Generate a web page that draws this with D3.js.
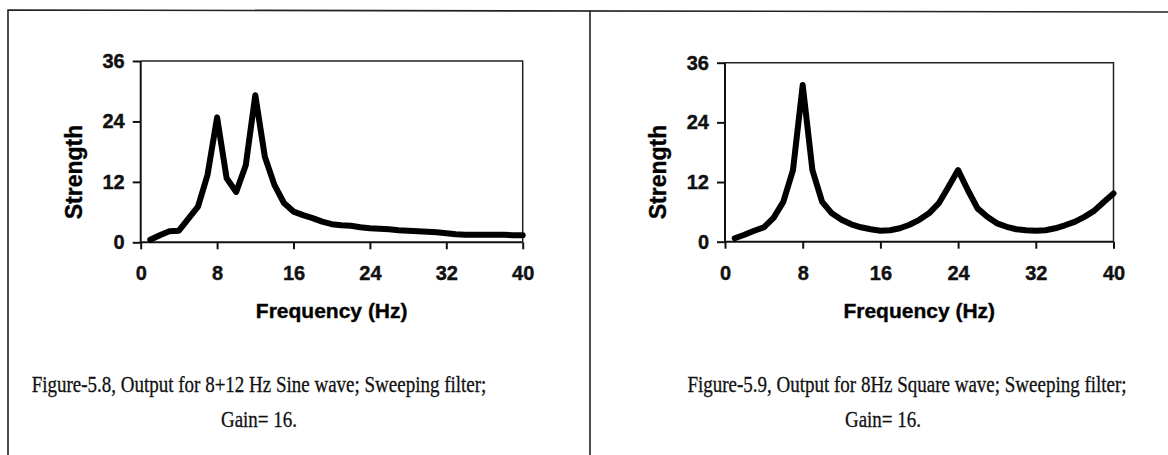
<!DOCTYPE html>
<html>
<head>
<meta charset="utf-8">
<script src="https://cdn.jsdelivr.net/npm/d3@7"></script>
<style>
  body { margin: 0; background: #fff; }
  svg { display: block; }
  .tick text { font-family: "Liberation Sans", Arial, sans-serif; font-weight: bold; font-size: 20px; fill: #111; stroke: #111; stroke-width: 0.4px; }
  .tick line, .domain { stroke: #111; }
</style>
</head>
<body>
<svg id="svg_layer" width="1168" height="455"></svg>
<script>
// data
var freqs = d3.range(1, 41);
var sineStrength = [0.5, 1.4, 2.2, 2.3, 4.7, 7.1, 13.4, 24.8, 12.7, 10.0,
  15.3, 29.2, 17.0, 11.4, 7.8, 6.1, 5.4, 4.8, 4.1, 3.6,
  3.4, 3.3, 3.0, 2.8, 2.7, 2.6, 2.4, 2.3, 2.2, 2.1,
  2.0, 1.8, 1.6, 1.5, 1.5, 1.5, 1.5, 1.5, 1.4, 1.4];
var squareStrength = [0.7, 1.4, 2.2, 2.9, 4.8, 8.0, 14.4, 31.5, 14.4, 8.0,
  5.7, 4.4, 3.5, 2.9, 2.5, 2.2, 2.3, 2.7, 3.4, 4.4,
  5.7, 7.7, 11.0, 14.4, 10.4, 6.7, 5.0, 3.7, 3.0, 2.5,
  2.3, 2.2, 2.3, 2.7, 3.3, 4.0, 5.0, 6.2, 8.0, 9.7];
var xTicks = [0, 8, 16, 24, 32, 40];
var yTicks = [0, 12, 24, 36];
var captions1 = ["Figure-5.8, Output for 8+12 Hz Sine wave; Sweeping filter;", "Gain= 16."];
var captions2 = ["Figure-5.9, Output for 8Hz Square wave; Sweeping filter;", "Gain= 16."];

var svg = d3.select("#svg_layer");

// outer frame (scanned page table)
svg.append("path")
  .attr("d", "M8,455 L8,10 L1168,12")
  .attr("fill", "none").attr("stroke", "#222").attr("stroke-width", 1.6);
svg.append("line")
  .attr("x1", 590).attr("y1", 10.5).attr("x2", 590).attr("y2", 455)
  .attr("stroke", "#222").attr("stroke-width", 1.6);

function drawChart(box, values, caps) {
  var x = d3.scaleLinear().domain([0, 40]).range([box.left, box.right]);
  var y = d3.scaleLinear().domain([0, 36]).range([box.bottom, box.top]);
  var g = svg.append("g");

  // top and right border of plot area
  g.append("path")
    .attr("d", "M" + x(0) + "," + y(36) + " L" + x(40) + "," + y(36) + " L" + x(40) + "," + y(0))
    .attr("fill", "none").attr("stroke", "#222").attr("stroke-width", 1.5);

  var ya = g.append("g")
    .attr("transform", "translate(" + x(0) + ",0)")
    .call(d3.axisLeft(y).tickValues(yTicks).tickSize(8).tickPadding(8));
  var xa = g.append("g")
    .attr("transform", "translate(0," + y(0) + ")")
    .call(d3.axisBottom(x).tickValues(xTicks).tickSize(7).tickPadding(17));
  ya.selectAll(".domain, .tick line").attr("stroke-width", 2);
  xa.selectAll(".domain, .tick line").attr("stroke-width", 2);
  ya.select(".domain").attr("d", "M0," + y(0) + "V" + y(36));
  xa.select(".domain").attr("d", "M" + x(0) + ",0H" + x(40));

  // series
  var line = d3.line()
    .x(function (d, i) { return x(freqs[i]); })
    .y(function (d) { return y(d); });
  g.append("path")
    .datum(values)
    .attr("d", line)
    .attr("fill", "none")
    .attr("stroke", "#000")
    .attr("stroke-width", 6)
    .attr("stroke-linejoin", "round")
    .attr("stroke-linecap", "round");

  // axis titles
  g.append("text")
    .attr("x", (x(0) + x(40)) / 2).attr("y", box.bottom + 76)
    .attr("text-anchor", "middle")
    .style("font-family", "Liberation Sans, Arial, sans-serif")
    .style("font-weight", "bold").style("font-size", "21px")
    .style("stroke", "#111").style("stroke-width", "0.4px")
    .text("Frequency (Hz)");
  g.append("text")
    .attr("transform", "translate(" + (x(0) - 59) + "," + 172 + ") rotate(-90)")
    .attr("text-anchor", "middle")
    .style("font-family", "Liberation Sans, Arial, sans-serif")
    .style("font-weight", "bold").style("font-size", "23px")
    .style("stroke", "#111").style("stroke-width", "0.4px")
    .text("Strength");

  // caption
  caps.forEach(function (c, i) {
    g.append("text")
      .attr("transform", "translate(" + box.capX[i] + "," + (392 + i * 35) + ") scale(1,1.2)")
      .attr("text-anchor", "middle")
      .style("font-family", "Liberation Serif, Times New Roman, serif")
      .style("font-size", "19px").style("fill", "#111")
      .style("stroke", "#111").style("stroke-width", "0.25px")
      .text(c);
  });
}

drawChart({ left: 140.7, right: 522.7, top: 61, bottom: 242.3, capX: [259, 259] }, sineStrength, captions1);
drawChart({ left: 725, right: 1113.5, top: 62.7, bottom: 241.7, capX: [907, 883] }, squareStrength, captions2);
</script>
</body>
</html>
